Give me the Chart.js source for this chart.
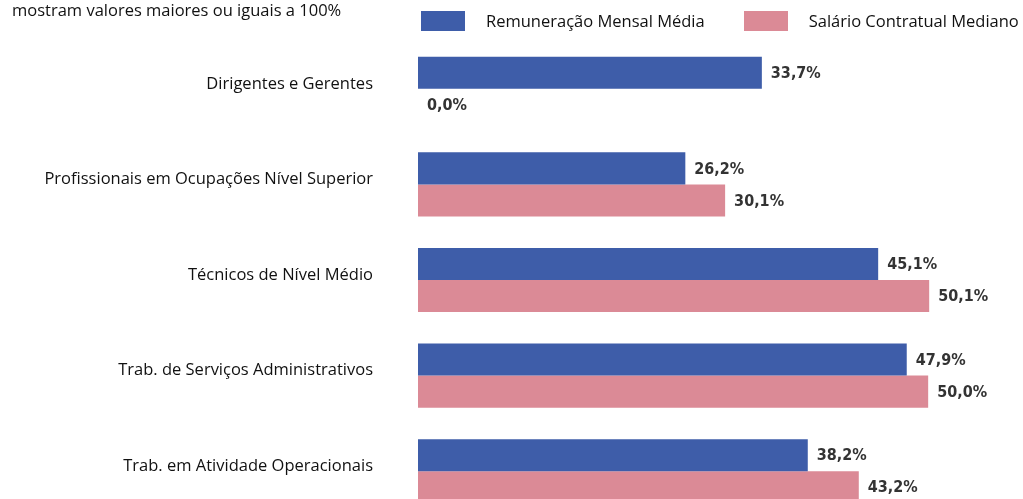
<!DOCTYPE html>
<html>
<head>
<meta charset="utf-8">
<script src="https://cdn.jsdelivr.net/npm/chart.js@4"></script>
<style>
  html, body { margin: 0; padding: 0; background: #fff; overflow: hidden; }
  #wrap { position: relative; width: 1023px; height: 499px; overflow: hidden; }
  #note { position: absolute; left: 12px; top: -2px; font: 16.5px "Open Sans", sans-serif; color: #111; white-space: nowrap; }
  #legend { position: absolute; left: 421px; top: 9px; display: flex; font: 16.5px "Open Sans", sans-serif; color: #111; white-space: nowrap; }
  .item { display: flex; align-items: center; margin-right: 39px; }
  .box { width: 44px; height: 20px; margin-right: 21px; }
  #plotGraph { position: absolute; left: 0; top: 0; }
</style>
</head>
<body>
<div id="wrap">
  <canvas id="plotGraph" width="1023" height="530"></canvas>
  <div id="note">mostram valores maiores ou iguais a 100%</div>
  <div id="legend"></div>
</div>
<script>
// データ
const categories = [
  "Dirigentes e Gerentes",
  "Profissionais em Ocupações Nível Superior",
  "Técnicos de Nível Médio",
  "Trab. de Serviços Administrativos",
  "Trab. em Atividade Operacionais"
]
const seriesNames = ["Remuneração Mensal Média", "Salário Contratual Mediano"]
const remuneracao = [33.7, 26.2, 45.1, 47.9, 38.2]
const salario = [0.0, 30.1, 50.1, 50.0, 43.2]
const seriesColors = ["#3e5da9", "#db8a96"]

// 凡例 (HTML)
function buildLegend() {
  let legend = document.getElementById("legend")
  seriesNames.forEach((name, i) => {
    let item = document.createElement("div")
    item.className = "item"
    let box = document.createElement("div")
    box.className = "box"
    box.style.background = seriesColors[i]
    let txt = document.createElement("span")
    txt.textContent = name
    item.appendChild(box)
    item.appendChild(txt)
    legend.appendChild(item)
  })
}

// バーの右に値を表示
const valueLabels = {
  id: "valueLabels",
  afterDatasetsDraw(chart) {
    let ctx = chart.ctx
    ctx.save()
    ctx.font = "bold 16px 'DejaVu Sans Condensed', sans-serif"
    ctx.fillStyle = "#333"
    ctx.textBaseline = "middle"
    ctx.textAlign = "left"
    chart.data.datasets.forEach((ds, di) => {
      chart.getDatasetMeta(di).data.forEach((bar, i) => {
        let v = ds.data[i]
        ctx.fillText(v.toFixed(1).replace(".", ",") + "%", bar.x + 9, bar.y + 1)
      })
    })
    ctx.restore()
  }
}

let mainChartObj
function drawGraph() {
  let mainData = {
    labels: categories,
    datasets: [
      {
        label: seriesNames[0],
        data: remuneracao,
        backgroundColor: seriesColors[0],
        borderWidth: 0,
        categoryPercentage: 0.67,
        barPercentage: 1.0
      }, {
        label: seriesNames[1],
        data: salario,
        backgroundColor: seriesColors[1],
        borderWidth: 0,
        categoryPercentage: 0.67,
        barPercentage: 1.0
      }
    ]
  }

  let mainOptions = {
    indexAxis: "y",
    responsive: false,
    animation: false,
    layout: { padding: { top: 41, bottom: 11, left: 0, right: 3 } },
    plugins: {
      legend: { display: false },
      title: { display: false },
      tooltip: { enabled: false }
    },
    scales: {
      x: {
        display: false,
        min: 0,
        max: 59
      },
      y: {
        grid: { display: false },
        border: { display: false },
        afterFit: (s) => {
          s.width = 418
          s.paddingTop = 0
          s.paddingBottom = 0
        },
        ticks: {
          color: "#111",
          padding: 37,
          labelOffset: -5,
          font: { family: "'Open Sans', sans-serif", size: 16.5 }
        }
      }
    }
  }

  let mainCtx = document.getElementById("plotGraph")
  mainChartObj = new Chart(mainCtx, {
    type: "bar",
    data: mainData,
    options: mainOptions,
    plugins: [valueLabels]
  })
}

buildLegend()
drawGraph()
</script>
</body>
</html>
